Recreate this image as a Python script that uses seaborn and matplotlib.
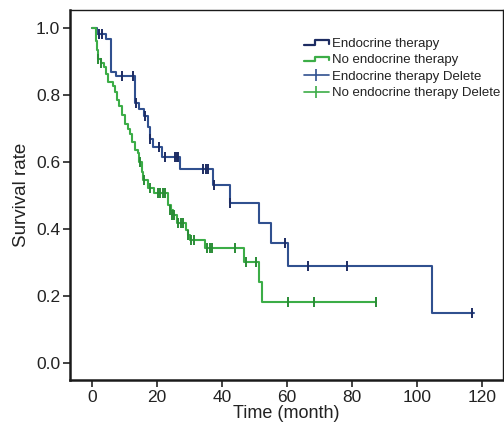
import matplotlib
matplotlib.use("Agg")
import matplotlib.pyplot as plt
from matplotlib.lines import Line2D
from matplotlib.legend_handler import HandlerBase
import seaborn as sns
import pandas as pd

# Kaplan-Meier steps: time of each drop (months) and survival after it
endo_time = [0, 1.6, 4.2, 6.0, 7.3, 13.2, 14.6, 16.0, 17.3, 17.8, 18.8, 21.4,
             27.0, 37.2, 42.3, 51.3, 55.1, 60.2, 104.5, 117.5]
endo_surv = [1.0, 0.982, 0.967, 0.870, 0.857, 0.777, 0.757, 0.737, 0.705, 0.670,
             0.646, 0.616, 0.578, 0.531, 0.477, 0.419, 0.359, 0.290, 0.148, 0.148]

noendo_time = [0, 1.3, 1.6, 1.8, 2.9, 3.6, 4.2, 4.8, 6.5, 7.1, 7.8, 8.3, 9.1, 10.1,
               11.0, 11.7, 12.4, 13.2, 14.2, 14.6, 15.4, 15.8, 17.3, 19.0, 23.4,
               24.3, 24.9, 26.0, 29.0, 29.6, 30.0, 34.7, 46.9, 51.5, 52.3, 87.3]
noendo_surv = [1.0, 0.960, 0.934, 0.909, 0.897, 0.885, 0.862, 0.840, 0.826, 0.810,
               0.785, 0.766, 0.740, 0.715, 0.700, 0.685, 0.660, 0.636, 0.626, 0.600,
               0.571, 0.546, 0.521, 0.506, 0.472, 0.457, 0.442, 0.417, 0.397, 0.382,
               0.367, 0.342, 0.300, 0.243, 0.183, 0.183]

# Censored observations ("Delete")
endo_cens_time = [2.1, 3.0, 9.3, 12.5, 13.5, 16.3, 18.0, 20.5, 22.4, 25.5, 26.0,
                  26.5, 34.1, 35.0, 35.8, 37.5, 42.5, 59.5, 66.4, 78.3, 117.0]
endo_cens_surv = [0.982, 0.982, 0.857, 0.857, 0.777, 0.737, 0.670, 0.646, 0.616,
                  0.616, 0.616, 0.616, 0.578, 0.578, 0.578, 0.531, 0.477, 0.359,
                  0.290, 0.290, 0.148]

noendo_cens_time = [2.0, 2.9, 14.7, 16.0, 17.8, 20.3, 21.0, 21.7, 22.4, 24.0, 24.5,
                    25.3, 26.5, 27.3, 28.0, 29.5, 30.5, 31.3, 35.4, 36.2, 37.0,
                    43.9, 47.3, 50.3, 60.2, 68.4, 87.3]
noendo_cens_surv = [0.909, 0.897, 0.600, 0.546, 0.521, 0.506, 0.506, 0.506, 0.506,
                    0.457, 0.442, 0.442, 0.417, 0.417, 0.417, 0.382, 0.367, 0.367,
                    0.342, 0.342, 0.342, 0.342, 0.300, 0.300, 0.183, 0.183, 0.183]

x_ticks = [0, 20, 40, 60, 80, 100, 120]
y_ticks = [0.0, 0.2, 0.4, 0.6, 0.8, 1.0]

labels = ["Endocrine therapy", "No endocrine therapy",
          "Endocrine therapy Delete", "No endocrine therapy Delete"]

BLUE = "#30508f"
BLUE_DARK = "#1d2c62"
GREEN = "#3cad47"
GREEN_DARK = "#2a8c36"

sns.set_theme(style="ticks")
plt.rcParams["font.family"] = ["Liberation Sans", "DejaVu Sans"]

fig = plt.figure(figsize=(5.04, 4.28), dpi=100)
ax = fig.add_axes([70 / 504, 1 - 380 / 428, (503 - 70) / 504, (380 - 10) / 428])

endo = pd.DataFrame({"time": endo_time, "surv": endo_surv})
noendo = pd.DataFrame({"time": noendo_time, "surv": noendo_surv})

sns.lineplot(data=endo, x="time", y="surv", ax=ax, color=BLUE, lw=1.5,
             drawstyle="steps-post", estimator=None, sort=False)
sns.lineplot(data=noendo, x="time", y="surv", ax=ax, color=GREEN, lw=1.5,
             drawstyle="steps-post", estimator=None, sort=False)

sns.scatterplot(x=endo_cens_time, y=endo_cens_surv, ax=ax, marker="|", s=50,
                color=BLUE_DARK, linewidth=1.4, zorder=4)
sns.scatterplot(x=noendo_cens_time, y=noendo_cens_surv, ax=ax, marker="|", s=50,
                color=GREEN_DARK, linewidth=1.4, zorder=4)

ax.set_xlim(-6.75, 126.4)
ax.set_ylim(-0.051, 1.054)
ax.set_xticks(x_ticks)
ax.set_yticks(y_ticks)
ax.set_yticklabels([f"{v:.1f}" for v in y_ticks])
ax.tick_params(axis="both", direction="out", length=5, width=1.2, pad=2,
               labelsize=12.5, colors="#222222")
for side in ["left", "bottom"]:
    ax.spines[side].set_linewidth(1.8)
for side in ["top", "right"]:
    ax.spines[side].set_linewidth(1.0)
for sp in ax.spines.values():
    sp.set_color("#1a1a1a")

ax.set_xlabel("Time (month)", fontsize=13, color="#222222", labelpad=0)
ax.set_ylabel("Survival rate", fontsize=13.5, color="#222222", labelpad=4)


class StepHandler(HandlerBase):
    """Draws a small step-shaped legend key."""

    def create_artists(self, legend, orig_handle, xdescent, ydescent,
                       width, height, fontsize, trans):
        x0, y0 = -xdescent, -ydescent
        xs = [x0, x0 + 0.45 * width, x0 + 0.45 * width, x0 + width, x0 + width]
        ys = [y0 + 0.2 * height, y0 + 0.2 * height, y0 + 0.7 * height,
              y0 + 0.7 * height, y0 + 0.35 * height]
        line = Line2D(xs, ys, color=orig_handle.get_color(),
                      lw=orig_handle.get_linewidth())
        line.set_transform(trans)
        return [line]


h_endo = Line2D([], [], color=BLUE_DARK, lw=1.6)
h_noendo = Line2D([], [], color=GREEN, lw=1.6)
h_endo_c = Line2D([], [], color=BLUE, lw=1.2, marker="|", markersize=9,
                  markeredgewidth=1.2)
h_noendo_c = Line2D([], [], color=GREEN, lw=1.2, marker="|", markersize=9,
                    markeredgewidth=1.2)

ax.legend([h_endo, h_noendo, h_endo_c, h_noendo_c], labels,
          handler_map={h_endo: StepHandler(), h_noendo: StepHandler()},
          loc="upper left", bbox_to_anchor=(297 / 504, 1 - 31 / 428),
          bbox_transform=fig.transFigure, frameon=False, fontsize=9.5,
          handlelength=1.9, handletextpad=0.25, labelspacing=0.32, borderpad=0,
          labelcolor="#222222")

fig.savefig("out.png", dpi=100)
